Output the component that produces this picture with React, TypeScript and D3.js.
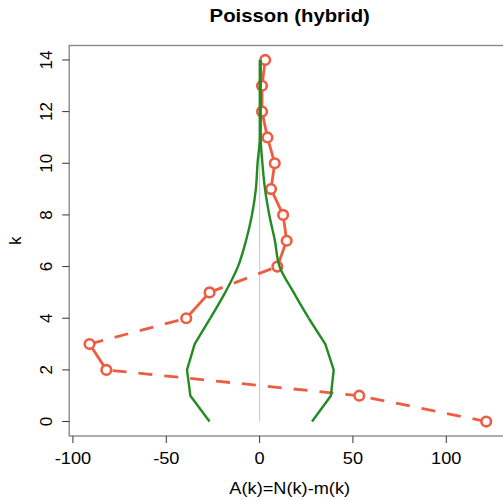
import React from 'react';
import * as d3 from 'd3';

const kValues = [0, 1, 2, 3, 4, 5, 6, 7, 8, 9, 10, 11, 12, 13, 14];
const aValues = [121.4, 53.4, -82.1, -91.1, -39.3, -26.8, 9.5, 14.5, 12.6, 6.1, 8.1, 4.2, 1.3, 1.3, 3.0];
const envLower = [-26.8, -37.1, -38.9, -34.8, -26.4, -18.4, -11.6, -7.3, -4.1, -2.0, -1.1, 0.1, 0.1, 0.1, 0.1];
const envUpper = [28.1, 38.2, 39.7, 35.2, 26.3, 18.2, 10.7, 8.2, 5.2, 2.9, 1.5, 0.6, 0.6, 0.6, 0.6];
const xTicks = [-100, -50, 0, 50, 100];
const yTicks = [0, 2, 4, 6, 8, 10, 12, 14];
const xDomain = [-102, 132];
const yDomain = [-0.56, 14.56];
const titleText = 'Poisson (hybrid)';
const xLabel = 'A(k)=N(k)-m(k)';
const yLabel = 'k';

const FONT = '"Liberation Sans", Arial, sans-serif';
const RED = '#EE5C42';
const GREEN = '#228B22';

export default function App() {
  const x = d3.scaleLinear().domain(xDomain).range([69.2, 506]);
  const y = d3.scaleLinear().domain(yDomain).range([436, 45.5]);
  const left = x(xDomain[0]);
  const top = y(yDomain[1]);
  const bottom = y(yDomain[0]);
  const cx = 289.7;

  const linLine = d3
    .line<[number, number]>()
    .x((d) => x(d[0]))
    .y((d) => y(d[1]));
  const smoothLine = d3
    .line<[number, number]>()
    .x((d) => x(d[0]))
    .y((d) => y(d[1]))
    .curve(d3.curveMonotoneY);
  const lowerPts = kValues.map((k, i) => [envLower[i], k] as [number, number]);
  const upperPts = kValues.map((k, i) => [envUpper[i], k] as [number, number]);
  const split = 4;

  const segs = kValues.slice(0, -1).map((k, i) => ({
    x1: x(aValues[i]),
    y1: y(k),
    x2: x(aValues[i + 1]),
    y2: y(kValues[i + 1]),
    dashed: Math.abs(aValues[i + 1] - aValues[i]) > 20,
  }));

  const envPaths = [lowerPts, upperPts].map((pts) => [
    linLine(pts.slice(0, split + 1)) || '',
    smoothLine(pts.slice(split)) || '',
  ]);

  return (
    <svg
      width={503}
      height={500}
      style={{ position: 'absolute', left: 0, top: 0, display: 'block', background: '#fff' }}
      fontFamily={FONT}
    >
      <rect x={0} y={0} width={503} height={500} fill="#fff" />
      {/* zero line */}
      <line x1={x(0)} x2={x(0)} y1={y(0)} y2={y(14)} stroke="#d0d0d0" strokeWidth={1.2} />
      {/* red segments */}
      {segs.map((s, i) => (
        <line
          key={i}
          x1={s.x1}
          y1={s.y1}
          x2={s.x2}
          y2={s.y2}
          stroke={RED}
          strokeWidth={2.8}
          strokeDasharray={s.dashed ? '14 12' : undefined}
        />
      ))}
      {kValues.map((k, i) => (
        <circle key={i} cx={x(aValues[i])} cy={y(k)} r={4.8} fill="#fff" stroke={RED} strokeWidth={2.6} />
      ))}
      {/* green envelope */}
      {envPaths.map((p, i) => (
        <g key={i}>
          <path d={p[0]} fill="none" stroke={GREEN} strokeWidth={2.4} strokeLinejoin="round" />
          <path d={p[1]} fill="none" stroke={GREEN} strokeWidth={2.4} strokeLinejoin="round" />
        </g>
      ))}
      {/* frame */}
      <rect x={left} y={top} width={520 - left} height={bottom - top} fill="none" stroke="#8a8a8a" strokeWidth={1.4} />
      {/* x axis */}
      {xTicks.map((t) => (
        <g key={t}>
          <line x1={x(t)} x2={x(t)} y1={bottom} y2={bottom + 7} stroke="#333" strokeWidth={1} />
          <text
            transform={`translate(${x(t)},464) scale(1.07,1)`}
            textAnchor="middle"
            fontSize={17}
            fill="#000"
          >
            {t}
          </text>
        </g>
      ))}
      {/* y axis */}
      {yTicks.map((t) => (
        <g key={t}>
          <line x1={left - 7} x2={left} y1={y(t)} y2={y(t)} stroke="#333" strokeWidth={1} />
          <text
            transform={`translate(51.7,${y(t)}) rotate(-90)`}
            textAnchor="middle"
            fontSize={17}
            fill="#000"
          >
            {t}
          </text>
        </g>
      ))}
      <text transform={`translate(${cx},494) scale(1.07,1)`} textAnchor="middle" fontSize={17} fill="#000">
        {xLabel}
      </text>
      <text transform={`translate(21,${(top + bottom) / 2}) rotate(-90)`} textAnchor="middle" fontSize={17} fill="#000">
        {yLabel}
      </text>
      <text
        transform={`translate(${cx},22.3) scale(1.07,1)`}
        textAnchor="middle"
        fontSize={19}
        fontWeight="bold"
        fill="#000"
      >
        {titleText}
      </text>
    </svg>
  );
}
